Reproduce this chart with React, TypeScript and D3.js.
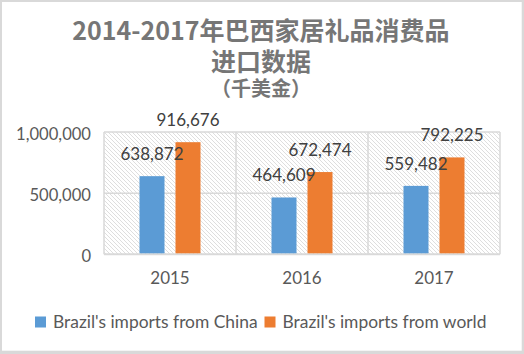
import React from 'react';
import * as d3 from 'd3';

// ── Data ──────────────────────────────────────────────────────────────────────
const years = ['2015', '2016', '2017'];
const seriesNames = ["Brazil's imports from China", "Brazil's imports from world"];
const fromChina = [638872, 464609, 559482];
const fromWorld = [916676, 672474, 792225];
const yTicks = [0, 500000, 1000000];
const seriesColors = ['#5B9BD5', '#ED7D31'];

const titleLines = ['2014-2017年巴西家居礼品消费品', '进口数据', '（千美金）'];

// ── Layout ────────────────────────────────────────────────────────────────────
const W = 524;
const H = 354;
const PLOT = { left: 104, right: 500, top: 132, bottom: 254.3 };
const GRID = '#d9d9d9';
const TEXT = '#595959';
const LATIN = 'Lato, "Open Sans", sans-serif';
const CJK = '"Noto Sans CJK SC", "Noto Sans", sans-serif';

export default function App() {
  const x = d3.scaleBand().domain(years).range([PLOT.left, PLOT.right]).padding(0);
  // two bars per year, ~25px wide with an ~11px gap, centred in the band
  const xs = d3
    .scaleBand()
    .domain(seriesNames)
    .range([0, x.bandwidth()])
    .paddingInner(0.3056)
    .paddingOuter(0.986);
  const y = d3.scaleLinear().domain([0, 1000000]).range([PLOT.bottom, PLOT.top]);
  const fmt = d3.format(',.0f');
  const series = [fromChina, fromWorld];

  return (
    <svg
      width={W}
      height={H}
      style={{ position: 'absolute', left: 0, top: 0, display: 'block' }}
    >
      <defs>
        <pattern id="hatch" width={4} height={4} patternUnits="userSpaceOnUse">
          <path
            d="M-1,-1 L5,5 M-1,3 L1,5 M3,-1 L5,1"
            stroke="#dadada"
            strokeWidth={0.9}
          />
        </pattern>
      </defs>

      {/* frame */}
      <rect x={0} y={0} width={W} height={H} fill={GRID} />
      <rect x={2} y={2} width={519.7} height={348.7} fill="#fff" />

      {/* title */}
      <g fill="#767676" fontFamily={CJK} fontWeight="bold" textAnchor="middle">
        <text x={261} y={40} fontSize={25}>{titleLines[0]}</text>
        <text x={261} y={71} fontSize={25}>{titleLines[1]}</text>
        <text x={261} y={96} fontSize={20}>{titleLines[2]}</text>
      </g>

      {/* plot background */}
      <rect
        x={PLOT.left}
        y={PLOT.top}
        width={PLOT.right - PLOT.left}
        height={PLOT.bottom - PLOT.top}
        fill="url(#hatch)"
      />

      {/* grid */}
      {yTicks.map((t) => (
        <line
          key={t}
          x1={PLOT.left}
          x2={PLOT.right}
          y1={y(t)}
          y2={y(t)}
          stroke={GRID}
          strokeWidth={t === 0 ? 2 : 1.5}
        />
      ))}
      {[...years.map((yr) => x(yr) ?? 0), PLOT.right].map((vx, i) => (
        <line
          key={i}
          x1={vx}
          x2={vx}
          y1={PLOT.top}
          y2={PLOT.bottom}
          stroke={GRID}
          strokeWidth={1.5}
        />
      ))}

      {/* y axis labels */}
      {yTicks.map((t) => (
        <text
          key={t}
          x={91}
          y={y(t) + 7.5}
          textAnchor="end"
          fontFamily={LATIN}
          fontSize={16.6}
          fill={TEXT}
        >
          {fmt(t)}
        </text>
      ))}

      {/* bars */}
      {years.map((yr, i) => (
        <g key={yr} transform={`translate(${x(yr)},0)`}>
          {series.map((vals, s) => {
            const top = y(vals[i]);
            return (
              <rect
                key={s}
                x={xs(seriesNames[s]) ?? 0}
                y={top}
                width={xs.bandwidth()}
                height={PLOT.bottom - 1 - top}
                fill={seriesColors[s]}
              />
            );
          })}
          <text
            x={x.bandwidth() / 2}
            y={284}
            textAnchor="middle"
            fontFamily={LATIN}
            fontSize={17}
            fill={TEXT}
          >
            {yr}
          </text>
        </g>
      ))}

      {/* value labels drawn above all bars */}
      {years.map((yr, i) =>
        series.map((vals, s) => (
          <text
            key={`${yr}-${s}`}
            x={(x(yr) ?? 0) + (xs(seriesNames[s]) ?? 0) + xs.bandwidth() / 2}
            y={y(vals[i]) - 16}
            textAnchor="middle"
            fontFamily={LATIN}
            fontSize={17}
            fill="#404040"
          >
            {fmt(vals[i])}
          </text>
        )),
      )}

      {/* legend */}
      {seriesNames.map((name, s) => {
        const lx = s === 0 ? 35 : 264.5;
        return (
          <g key={name}>
            <rect x={lx} y={316.5} width={11} height={11} fill={seriesColors[s]} />
            <text x={lx + 18} y={328} fontFamily={LATIN} fontSize={17.4} fill={TEXT}>
              {name}
            </text>
          </g>
        );
      })}
    </svg>
  );
}
